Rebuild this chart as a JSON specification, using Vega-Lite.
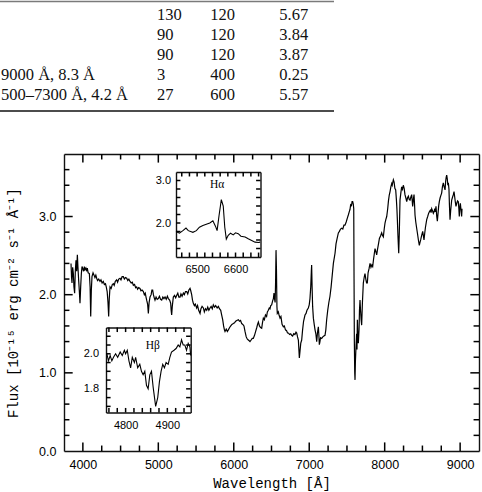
{
"$schema": "https://vega.github.io/schema/vega-lite/v6.json",
"autosize": {"type": "none"},
"padding": {"left": 64, "top": 154, "right": 3, "bottom": 41},
"width": 415,
"height": 297,
"config": {
  "view": {"stroke": null},
  "axis": {"grid": false, "domainColor": "#111", "domainWidth": 1.4, "labelColor": "#000", "labelFont": "Liberation Sans", "titleFont": "Liberation Mono", "titleFontWeight": "normal", "titleColor": "#000", "labelFlush": false, "labelOverlap": false},
  "rule": {"color": "#000", "strokeWidth": 1.5}
},
"datasets": {
  "spec": [
{"w":3843,"f":2.40},{"w":3850,"f":2.22},{"w":3856,"f":2.15},{"w":3865,"f":2.35},{"w":3874,"f":2.27},{"w":3882,"f":2.10},{"w":3891,"f":2.02},{"w":3900,"f":2.30},{"w":3909,"f":2.44},{"w":3918,"f":2.30},{"w":3927,"f":2.51},{"w":3935,"f":2.35},{"w":3944,"f":2.19},{"w":3953,"f":2.05},{"w":3962,"f":1.89},{"w":3971,"f":2.10},{"w":3980,"f":2.27},{"w":3989,"f":2.36},{"w":3997,"f":2.34},{"w":4010,"f":2.30},{"w":4020,"f":2.36},{"w":4028,"f":2.32},{"w":4040,"f":2.34},{"w":4050,"f":2.30},{"w":4059,"f":2.34},{"w":4070,"f":2.28},{"w":4086,"f":2.27},{"w":4096,"f":2.10},{"w":4104,"f":1.72},{"w":4112,"f":2.05},{"w":4121,"f":2.23},{"w":4135,"f":2.28},{"w":4148,"f":2.25},{"w":4160,"f":2.22},{"w":4172,"f":2.25},{"w":4183,"f":2.21},{"w":4195,"f":2.18},{"w":4210,"f":2.20},{"w":4227,"f":2.17},{"w":4240,"f":2.19},{"w":4255,"f":2.15},{"w":4271,"f":2.17},{"w":4285,"f":2.13},{"w":4300,"f":2.14},{"w":4310,"f":2.10},{"w":4322,"f":2.04},{"w":4333,"f":1.90},{"w":4342,"f":1.72},{"w":4350,"f":1.95},{"w":4360,"f":2.10},{"w":4375,"f":2.08},{"w":4390,"f":2.13},{"w":4404,"f":2.14},{"w":4415,"f":2.12},{"w":4430,"f":2.17},{"w":4448,"f":2.19},{"w":4460,"f":2.16},{"w":4475,"f":2.20},{"w":4492,"f":2.21},{"w":4505,"f":2.19},{"w":4520,"f":2.23},{"w":4536,"f":2.23},{"w":4550,"f":2.20},{"w":4565,"f":2.22},{"w":4581,"f":2.21},{"w":4595,"f":2.18},{"w":4610,"f":2.20},{"w":4625,"f":2.17},{"w":4640,"f":2.15},{"w":4655,"f":2.16},{"w":4669,"f":2.12},{"w":4685,"f":2.13},{"w":4700,"f":2.09},{"w":4713,"f":2.10},{"w":4725,"f":2.07},{"w":4740,"f":2.09},{"w":4757,"f":2.08},{"w":4770,"f":2.05},{"w":4785,"f":2.06},{"w":4802,"f":2.04},{"w":4815,"f":2.00},{"w":4827,"f":2.02},{"w":4837,"f":1.97},{"w":4848,"f":1.92},{"w":4858,"f":1.88},{"w":4868,"f":1.76},{"w":4878,"f":1.90},{"w":4890,"f":1.97},{"w":4905,"f":2.00},{"w":4915,"f":2.06},{"w":4925,"f":2.06},{"w":4935,"f":2.00},{"w":4946,"f":1.96},{"w":4956,"f":1.93},{"w":4970,"f":1.97},{"w":4985,"f":1.94},{"w":5000,"f":1.95},{"w":5015,"f":1.98},{"w":5030,"f":1.94},{"w":5045,"f":1.93},{"w":5060,"f":1.97},{"w":5075,"f":1.95},{"w":5089,"f":1.97},{"w":5105,"f":1.94},{"w":5120,"f":1.98},{"w":5133,"f":1.95},{"w":5150,"f":1.93},{"w":5164,"f":1.89},{"w":5170,"f":1.80},{"w":5177,"f":1.74},{"w":5185,"f":1.85},{"w":5199,"f":1.97},{"w":5215,"f":1.99},{"w":5230,"f":1.96},{"w":5243,"f":1.99},{"w":5258,"f":2.02},{"w":5272,"f":1.97},{"w":5288,"f":1.97},{"w":5300,"f":2.01},{"w":5315,"f":1.98},{"w":5332,"f":2.02},{"w":5345,"f":2.00},{"w":5360,"f":2.04},{"w":5376,"f":2.04},{"w":5390,"f":2.01},{"w":5405,"f":2.06},{"w":5420,"f":2.08},{"w":5430,"f":2.05},{"w":5442,"f":2.00},{"w":5453,"f":1.93},{"w":5464,"f":1.89},{"w":5478,"f":1.86},{"w":5490,"f":1.88},{"w":5508,"f":1.83},{"w":5520,"f":1.86},{"w":5535,"f":1.80},{"w":5553,"f":1.76},{"w":5565,"f":1.82},{"w":5580,"f":1.85},{"w":5597,"f":1.83},{"w":5610,"f":1.78},{"w":5625,"f":1.82},{"w":5641,"f":1.80},{"w":5655,"f":1.84},{"w":5670,"f":1.80},{"w":5685,"f":1.83},{"w":5700,"f":1.85},{"w":5715,"f":1.82},{"w":5729,"f":1.87},{"w":5745,"f":1.84},{"w":5760,"f":1.86},{"w":5780,"f":1.83},{"w":5796,"f":1.85},{"w":5810,"f":1.82},{"w":5827,"f":1.80},{"w":5840,"f":1.74},{"w":5853,"f":1.68},{"w":5865,"f":1.60},{"w":5876,"f":1.55},{"w":5884,"f":1.53},{"w":5900,"f":1.56},{"w":5915,"f":1.53},{"w":5928,"f":1.55},{"w":5945,"f":1.58},{"w":5960,"f":1.60},{"w":5975,"f":1.62},{"w":5994,"f":1.63},{"w":6010,"f":1.64},{"w":6025,"f":1.66},{"w":6040,"f":1.67},{"w":6061,"f":1.68},{"w":6075,"f":1.66},{"w":6090,"f":1.67},{"w":6105,"f":1.63},{"w":6120,"f":1.62},{"w":6135,"f":1.60},{"w":6149,"f":1.53},{"w":6165,"f":1.46},{"w":6180,"f":1.43},{"w":6193,"f":1.42},{"w":6205,"f":1.41},{"w":6215,"f":1.40},{"w":6230,"f":1.42},{"w":6245,"f":1.44},{"w":6259,"f":1.44},{"w":6275,"f":1.48},{"w":6290,"f":1.53},{"w":6305,"f":1.58},{"w":6315,"f":1.62},{"w":6326,"f":1.65},{"w":6340,"f":1.60},{"w":6355,"f":1.58},{"w":6370,"f":1.57},{"w":6380,"f":1.64},{"w":6392,"f":1.70},{"w":6405,"f":1.68},{"w":6420,"f":1.74},{"w":6435,"f":1.72},{"w":6445,"f":1.78},{"w":6458,"f":1.80},{"w":6470,"f":1.83},{"w":6480,"f":1.82},{"w":6490,"f":1.86},{"w":6502,"f":1.87},{"w":6515,"f":1.92},{"w":6525,"f":1.95},{"w":6533,"f":2.02},{"w":6540,"f":1.95},{"w":6548,"f":1.90},{"w":6554,"f":2.15},{"w":6560,"f":2.57},{"w":6566,"f":2.30},{"w":6572,"f":1.85},{"w":6577,"f":1.76},{"w":6590,"f":1.78},{"w":6600,"f":1.74},{"w":6613,"f":1.70},{"w":6625,"f":1.72},{"w":6640,"f":1.62},{"w":6657,"f":1.59},{"w":6670,"f":1.60},{"w":6685,"f":1.55},{"w":6700,"f":1.54},{"w":6712,"f":1.51},{"w":6723,"f":1.51},{"w":6740,"f":1.49},{"w":6755,"f":1.50},{"w":6767,"f":1.48},{"w":6780,"f":1.47},{"w":6795,"f":1.50},{"w":6810,"f":1.49},{"w":6825,"f":1.52},{"w":6834,"f":1.51},{"w":6845,"f":1.46},{"w":6856,"f":1.42},{"w":6863,"f":1.30},{"w":6869,"f":1.19},{"w":6878,"f":1.28},{"w":6888,"f":1.38},{"w":6900,"f":1.42},{"w":6912,"f":1.55},{"w":6925,"f":1.66},{"w":6944,"f":1.74},{"w":6958,"f":1.76},{"w":6970,"f":1.80},{"w":6988,"f":1.83},{"w":7000,"f":1.87},{"w":7010,"f":1.95},{"w":7020,"f":2.10},{"w":7028,"f":2.30},{"w":7032,"f":2.38},{"w":7038,"f":2.10},{"w":7045,"f":1.85},{"w":7055,"f":1.70},{"w":7066,"f":1.62},{"w":7077,"f":1.55},{"w":7088,"f":1.50},{"w":7099,"f":1.40},{"w":7110,"f":1.52},{"w":7121,"f":1.59},{"w":7128,"f":1.48},{"w":7134,"f":1.36},{"w":7142,"f":1.40},{"w":7150,"f":1.45},{"w":7165,"f":1.44},{"w":7180,"f":1.46},{"w":7194,"f":1.47},{"w":7209,"f":1.48},{"w":7220,"f":1.55},{"w":7231,"f":1.68},{"w":7245,"f":1.80},{"w":7260,"f":1.90},{"w":7275,"f":1.98},{"w":7290,"f":2.10},{"w":7305,"f":2.25},{"w":7320,"f":2.40},{"w":7342,"f":2.53},{"w":7355,"f":2.65},{"w":7370,"f":2.72},{"w":7386,"f":2.79},{"w":7400,"f":2.81},{"w":7415,"f":2.84},{"w":7430,"f":2.85},{"w":7445,"f":2.84},{"w":7460,"f":2.89},{"w":7474,"f":2.89},{"w":7490,"f":2.93},{"w":7505,"f":2.98},{"w":7518,"f":3.02},{"w":7530,"f":3.06},{"w":7540,"f":3.09},{"w":7549,"f":3.15},{"w":7560,"f":3.14},{"w":7568,"f":3.19},{"w":7576,"f":3.19},{"w":7584,"f":3.16},{"w":7590,"f":3.10},{"w":7594,"f":2.20},{"w":7598,"f":1.40},{"w":7603,"f":1.00},{"w":7607,"f":0.91},{"w":7612,"f":1.15},{"w":7620,"f":1.33},{"w":7628,"f":1.50},{"w":7633,"f":1.30},{"w":7638,"f":1.68},{"w":7645,"f":1.45},{"w":7651,"f":1.38},{"w":7660,"f":1.55},{"w":7666,"f":1.80},{"w":7673,"f":1.93},{"w":7680,"f":1.80},{"w":7688,"f":1.68},{"w":7695,"f":1.61},{"w":7705,"f":1.90},{"w":7717,"f":2.15},{"w":7728,"f":2.22},{"w":7739,"f":2.27},{"w":7750,"f":2.20},{"w":7760,"f":2.15},{"w":7770,"f":2.15},{"w":7780,"f":2.28},{"w":7792,"f":2.33},{"w":7806,"f":2.40},{"w":7818,"f":2.35},{"w":7830,"f":2.38},{"w":7841,"f":2.36},{"w":7852,"f":2.45},{"w":7862,"f":2.52},{"w":7872,"f":2.59},{"w":7883,"f":2.55},{"w":7894,"f":2.51},{"w":7905,"f":2.58},{"w":7918,"f":2.65},{"w":7930,"f":2.72},{"w":7945,"f":2.75},{"w":7960,"f":2.79},{"w":7970,"f":2.76},{"w":7982,"f":2.74},{"w":7995,"f":2.85},{"w":8005,"f":2.92},{"w":8015,"f":2.96},{"w":8027,"f":3.00},{"w":8040,"f":3.10},{"w":8050,"f":3.20},{"w":8060,"f":3.27},{"w":8071,"f":3.32},{"w":8082,"f":3.38},{"w":8093,"f":3.42},{"w":8100,"f":3.40},{"w":8108,"f":3.44},{"w":8115,"f":3.47},{"w":8125,"f":3.44},{"w":8135,"f":3.36},{"w":8146,"f":3.34},{"w":8155,"f":3.22},{"w":8162,"f":3.10},{"w":8168,"f":2.96},{"w":8176,"f":2.75},{"w":8186,"f":2.53},{"w":8194,"f":2.80},{"w":8203,"f":3.21},{"w":8214,"f":3.30},{"w":8225,"f":3.38},{"w":8236,"f":3.35},{"w":8247,"f":3.40},{"w":8258,"f":3.36},{"w":8269,"f":3.28},{"w":8280,"f":3.24},{"w":8292,"f":3.19},{"w":8303,"f":3.24},{"w":8314,"f":3.26},{"w":8325,"f":3.22},{"w":8336,"f":3.21},{"w":8347,"f":3.25},{"w":8358,"f":3.28},{"w":8365,"f":3.20},{"w":8371,"f":3.13},{"w":8380,"f":3.22},{"w":8389,"f":3.28},{"w":8396,"f":3.15},{"w":8402,"f":3.02},{"w":8412,"f":2.93},{"w":8424,"f":2.85},{"w":8435,"f":2.78},{"w":8447,"f":2.70},{"w":8459,"f":2.63},{"w":8468,"f":2.67},{"w":8477,"f":2.70},{"w":8490,"f":2.76},{"w":8504,"f":2.81},{"w":8512,"f":2.76},{"w":8521,"f":2.70},{"w":8530,"f":2.78},{"w":8540,"f":2.86},{"w":8557,"f":2.96},{"w":8570,"f":3.00},{"w":8582,"f":3.04},{"w":8592,"f":3.06},{"w":8605,"f":3.08},{"w":8615,"f":3.05},{"w":8623,"f":3.10},{"w":8635,"f":3.07},{"w":8645,"f":3.04},{"w":8654,"f":3.06},{"w":8664,"f":3.10},{"w":8672,"f":3.06},{"w":8680,"f":3.13},{"w":8690,"f":3.00},{"w":8698,"f":2.94},{"w":8708,"f":3.05},{"w":8716,"f":3.14},{"w":8724,"f":3.19},{"w":8735,"f":3.24},{"w":8745,"f":3.27},{"w":8755,"f":3.30},{"w":8765,"f":3.38},{"w":8777,"f":3.43},{"w":8788,"f":3.38},{"w":8800,"f":3.34},{"w":8808,"f":3.45},{"w":8815,"f":3.50},{"w":8822,"f":3.53},{"w":8830,"f":3.48},{"w":8837,"f":3.40},{"w":8844,"f":3.43},{"w":8852,"f":3.35},{"w":8858,"f":3.15},{"w":8866,"f":2.96},{"w":8875,"f":3.08},{"w":8888,"f":3.21},{"w":8900,"f":3.25},{"w":8910,"f":3.28},{"w":8919,"f":3.32},{"w":8928,"f":3.25},{"w":8937,"f":3.18},{"w":8945,"f":3.13},{"w":8955,"f":3.17},{"w":8966,"f":3.20},{"w":8976,"f":3.19},{"w":8983,"f":3.10},{"w":8989,"f":3.00},{"w":8996,"f":3.12},{"w":9003,"f":3.17},{"w":9012,"f":3.08},{"w":9020,"f":3.00},{"w":9025,"f":3.10}
  ],
  "ha": [
{"w":6445,"f":1.80},{"w":6454,"f":1.76},{"w":6463,"f":1.82},{"w":6471,"f":1.88},{"w":6477,"f":1.82},{"w":6489,"f":1.78},{"w":6498,"f":1.82},{"w":6506,"f":1.90},{"w":6515,"f":1.94},{"w":6524,"f":1.97},{"w":6533,"f":2.00},{"w":6541,"f":2.05},{"w":6548,"f":1.92},{"w":6552,"f":1.82},{"w":6557,"f":2.17},{"w":6563,"f":2.55},{"w":6568,"f":2.40},{"w":6572,"f":1.90},{"w":6576,"f":1.62},{"w":6581,"f":1.71},{"w":6587,"f":1.76},{"w":6594,"f":1.72},{"w":6600,"f":1.77},{"w":6607,"f":1.75},{"w":6614,"f":1.69},{"w":6625,"f":1.67},{"w":6633,"f":1.63},{"w":6642,"f":1.59},{"w":6651,"f":1.55},{"w":6660,"f":1.54},{"w":6664,"f":1.55}
  ],
  "hb": [
{"w":4755,"f":2.00},{"w":4759,"f":1.96},{"w":4763,"f":1.99},{"w":4767,"f":1.96},{"w":4771,"f":1.98},{"w":4776,"f":2.00},{"w":4781,"f":1.98},{"w":4787,"f":2.01},{"w":4792,"f":1.99},{"w":4797,"f":2.02},{"w":4800,"f":2.00},{"w":4804,"f":2.02},{"w":4808,"f":1.96},{"w":4812,"f":1.92},{"w":4816,"f":1.98},{"w":4821,"f":1.95},{"w":4824,"f":1.98},{"w":4829,"f":1.92},{"w":4834,"f":1.94},{"w":4838,"f":1.90},{"w":4842,"f":1.88},{"w":4846,"f":1.90},{"w":4850,"f":1.82},{"w":4854,"f":1.80},{"w":4858,"f":1.88},{"w":4862,"f":1.90},{"w":4866,"f":1.81},{"w":4872,"f":1.70},{"w":4877,"f":1.75},{"w":4881,"f":1.84},{"w":4885,"f":1.90},{"w":4889,"f":1.94},{"w":4893,"f":1.92},{"w":4897,"f":1.95},{"w":4902,"f":1.94},{"w":4906,"f":1.98},{"w":4910,"f":2.01},{"w":4916,"f":2.02},{"w":4921,"f":2.03},{"w":4926,"f":2.05},{"w":4930,"f":2.04},{"w":4934,"f":2.08},{"w":4938,"f":2.05},{"w":4942,"f":2.05},{"w":4946,"f":2.02},{"w":4950,"f":2.06},{"w":4954,"f":2.04},{"w":4956,"f":1.99}
  ],
  "mxt": [{"v":4000,"k":"M"},{"v":4250,"k":"m"},{"v":4500,"k":"m"},{"v":4750,"k":"m"},{"v":5000,"k":"M"},{"v":5250,"k":"m"},{"v":5500,"k":"m"},{"v":5750,"k":"m"},{"v":6000,"k":"M"},{"v":6250,"k":"m"},{"v":6500,"k":"m"},{"v":6750,"k":"m"},{"v":7000,"k":"M"},{"v":7250,"k":"m"},{"v":7500,"k":"m"},{"v":7750,"k":"m"},{"v":8000,"k":"M"},{"v":8250,"k":"m"},{"v":8500,"k":"m"},{"v":8750,"k":"m"},{"v":9000,"k":"M"}],
  "myt": [{"v":0.2,"k":"m"},{"v":0.4,"k":"m"},{"v":0.6,"k":"m"},{"v":0.8,"k":"m"},{"v":1.0,"k":"M"},{"v":1.2,"k":"m"},{"v":1.4,"k":"m"},{"v":1.6,"k":"m"},{"v":1.8,"k":"m"},{"v":2.0,"k":"M"},{"v":2.2,"k":"m"},{"v":2.4,"k":"m"},{"v":2.6,"k":"m"},{"v":2.8,"k":"m"},{"v":3.0,"k":"M"},{"v":3.2,"k":"m"},{"v":3.4,"k":"m"},{"v":3.6,"k":"m"}],
  "hax": [{"v":6460},{"v":6480},{"v":6500},{"v":6520},{"v":6540},{"v":6560},{"v":6580},{"v":6600},{"v":6620},{"v":6640},{"v":6660}],
  "hay": [{"v":1.4},{"v":1.6},{"v":1.8},{"v":2.0},{"v":2.2},{"v":2.4},{"v":2.6},{"v":2.8},{"v":3.0}],
  "hbx": [{"v":4760},{"v":4780},{"v":4800},{"v":4820},{"v":4840},{"v":4860},{"v":4880},{"v":4900},{"v":4920},{"v":4940}],
  "hby": [{"v":1.7},{"v":1.75},{"v":1.8},{"v":1.85},{"v":1.9},{"v":1.95},{"v":2.0},{"v":2.05},{"v":2.1}],
  "tbl": [
{"row":1,"col":1,"t":"130"},{"row":1,"col":2,"t":"120"},{"row":1,"col":3,"t":"5.67"},
{"row":2,"col":1,"t":"90"},{"row":2,"col":2,"t":"120"},{"row":2,"col":3,"t":"3.84"},
{"row":3,"col":1,"t":"90"},{"row":3,"col":2,"t":"120"},{"row":3,"col":3,"t":"3.87"},
{"row":4,"col":0,"t":"9000 Å, 8.3 Å"},{"row":4,"col":1,"t":"3"},{"row":4,"col":2,"t":"400"},{"row":4,"col":3,"t":"0.25"},
{"row":5,"col":0,"t":"500–7300 Å, 4.2 Å"},{"row":5,"col":1,"t":"27"},{"row":5,"col":2,"t":"600"},{"row":5,"col":3,"t":"5.57"}
  ]
},
"resolve": {"scale": {"x": "independent", "y": "independent"}, "axis": {"x": "independent", "y": "independent"}},
"layer": [
  {"data": {"name": "spec"}, "mark": {"type": "line", "color": "#000", "strokeWidth": 1.2},
   "encoding": {
    "x": {"field": "w", "type": "quantitative", "scale": {"domain": [3750, 9250], "nice": false, "zero": false},
          "axis": {"orient": "bottom", "values": [4000,5000,6000,7000,8000,9000], "format": "d", "ticks": false, "domain": true, "labelFontSize": 12.5, "labelPadding": 7, "title": "Wavelength [Å]", "titleFontSize": 14, "titlePadding": 6}},
    "y": {"field": "f", "type": "quantitative", "scale": {"domain": [0, 3.8], "nice": false, "zero": false},
          "axis": {"orient": "left", "values": [0,1,2,3], "format": ".1f", "ticks": false, "domain": true, "labelFontSize": 12.5, "labelPadding": 8, "title": "Flux [10⁻¹⁵ erg cm⁻² s⁻¹ Å⁻¹]", "titleFontSize": 14, "titlePadding": 18}}
   }},
  {"data": {"values": [{"w": 5000, "f": 1}]}, "mark": {"type": "point", "opacity": 0},
   "encoding": {
    "x": {"field": "w", "type": "quantitative", "scale": {"domain": [3750, 9250], "nice": false, "zero": false},
          "axis": {"orient": "top", "labels": false, "ticks": false, "domain": true, "title": null}},
    "y": {"field": "f", "type": "quantitative", "scale": {"domain": [0, 3.8], "nice": false, "zero": false},
          "axis": {"orient": "right", "labels": false, "ticks": false, "domain": true, "title": null}}
   }},
  {"data": {"name": "mxt"}, "transform": [{"filter": "datum.k === 'M'"}], "mark": "rule",
   "encoding": {
    "x": {"field": "v", "type": "quantitative", "scale": {"domain": [3750, 9250], "nice": false, "zero": false}, "axis": null},
    "y": {"datum": 0, "type": "quantitative", "scale": {"domain": [0, 3.8], "nice": false, "zero": false}, "axis": null},
    "y2": {"datum": 0.11}
   }},
  {"data": {"name": "mxt"}, "transform": [{"filter": "datum.k === 'm'"}], "mark": "rule",
   "encoding": {
    "x": {"field": "v", "type": "quantitative", "scale": {"domain": [3750, 9250], "nice": false, "zero": false}, "axis": null},
    "y": {"datum": 0, "type": "quantitative", "scale": {"domain": [0, 3.8], "nice": false, "zero": false}, "axis": null},
    "y2": {"datum": 0.07}
   }},
  {"data": {"name": "mxt"}, "transform": [{"filter": "datum.k === 'M'"}], "mark": "rule",
   "encoding": {
    "x": {"field": "v", "type": "quantitative", "scale": {"domain": [3750, 9250], "nice": false, "zero": false}, "axis": null},
    "y": {"datum": 3.8, "type": "quantitative", "scale": {"domain": [0, 3.8], "nice": false, "zero": false}, "axis": null},
    "y2": {"datum": 3.69}
   }},
  {"data": {"name": "mxt"}, "transform": [{"filter": "datum.k === 'm'"}], "mark": "rule",
   "encoding": {
    "x": {"field": "v", "type": "quantitative", "scale": {"domain": [3750, 9250], "nice": false, "zero": false}, "axis": null},
    "y": {"datum": 3.8, "type": "quantitative", "scale": {"domain": [0, 3.8], "nice": false, "zero": false}, "axis": null},
    "y2": {"datum": 3.73}
   }},
  {"data": {"name": "myt"}, "transform": [{"filter": "datum.k === 'M'"}], "mark": "rule",
   "encoding": {
    "y": {"field": "v", "type": "quantitative", "scale": {"domain": [0, 3.8], "nice": false, "zero": false}, "axis": null},
    "x": {"datum": 3750, "type": "quantitative", "scale": {"domain": [3750, 9250], "nice": false, "zero": false}, "axis": null},
    "x2": {"datum": 3865}
   }},
  {"data": {"name": "myt"}, "transform": [{"filter": "datum.k === 'm'"}], "mark": "rule",
   "encoding": {
    "y": {"field": "v", "type": "quantitative", "scale": {"domain": [0, 3.8], "nice": false, "zero": false}, "axis": null},
    "x": {"datum": 3750, "type": "quantitative", "scale": {"domain": [3750, 9250], "nice": false, "zero": false}, "axis": null},
    "x2": {"datum": 3822}
   }},
  {"data": {"name": "myt"}, "transform": [{"filter": "datum.k === 'M'"}], "mark": "rule",
   "encoding": {
    "y": {"field": "v", "type": "quantitative", "scale": {"domain": [0, 3.8], "nice": false, "zero": false}, "axis": null},
    "x": {"datum": 9250, "type": "quantitative", "scale": {"domain": [3750, 9250], "nice": false, "zero": false}, "axis": null},
    "x2": {"datum": 9135}
   }},
  {"data": {"name": "myt"}, "transform": [{"filter": "datum.k === 'm'"}], "mark": "rule",
   "encoding": {
    "y": {"field": "v", "type": "quantitative", "scale": {"domain": [0, 3.8], "nice": false, "zero": false}, "axis": null},
    "x": {"datum": 9250, "type": "quantitative", "scale": {"domain": [3750, 9250], "nice": false, "zero": false}, "axis": null},
    "x2": {"datum": 9178}
   }},

  {"data": {"name": "ha"}, "mark": {"type": "line", "color": "#000", "strokeWidth": 1.1},
   "encoding": {
    "x": {"field": "w", "type": "quantitative", "scale": {"domain": [6445, 6665], "range": [112, 196.5], "nice": false, "zero": false},
          "axis": {"orient": "bottom", "offset": -194, "values": [6500, 6600], "format": "d", "ticks": false, "domain": true, "labelFontSize": 11, "labelPadding": 6, "title": null}},
    "y": {"field": "f", "type": "quantitative", "scale": {"domain": [1.2, 3.2], "range": [103, 18], "nice": false, "zero": false},
          "axis": {"orient": "left", "offset": -112, "values": [2, 3], "format": ".1f", "ticks": false, "domain": true, "labelFontSize": 11, "labelPadding": 5.5, "title": null}}
   }},
  {"data": {"values": [{"w": 6550, "f": 2}]}, "mark": {"type": "point", "opacity": 0},
   "encoding": {
    "x": {"field": "w", "type": "quantitative", "scale": {"domain": [6445, 6665], "range": [112, 196.5], "nice": false, "zero": false},
          "axis": {"orient": "top", "offset": -18, "labels": false, "ticks": false, "domain": true, "title": null}},
    "y": {"field": "f", "type": "quantitative", "scale": {"domain": [1.2, 3.2], "range": [103, 18], "nice": false, "zero": false},
          "axis": {"orient": "right", "offset": -218.5, "labels": false, "ticks": false, "domain": true, "title": null}}
   }},
  {"data": {"name": "hax"}, "mark": "rule",
   "encoding": {
    "x": {"field": "v", "type": "quantitative", "scale": {"domain": [6445, 6665], "range": [112, 196.5], "nice": false, "zero": false}, "axis": null},
    "y": {"datum": 1.2, "type": "quantitative", "scale": {"domain": [1.2, 3.2], "range": [103, 18], "nice": false, "zero": false}, "axis": null},
    "y2": {"datum": 1.305}
   }},
  {"data": {"name": "hax"}, "mark": "rule",
   "encoding": {
    "x": {"field": "v", "type": "quantitative", "scale": {"domain": [6445, 6665], "range": [112, 196.5], "nice": false, "zero": false}, "axis": null},
    "y": {"datum": 3.2, "type": "quantitative", "scale": {"domain": [1.2, 3.2], "range": [103, 18], "nice": false, "zero": false}, "axis": null},
    "y2": {"datum": 3.095}
   }},
  {"data": {"name": "hay"}, "mark": "rule",
   "encoding": {
    "y": {"field": "v", "type": "quantitative", "scale": {"domain": [1.2, 3.2], "range": [103, 18], "nice": false, "zero": false}, "axis": null},
    "x": {"datum": 6445, "type": "quantitative", "scale": {"domain": [6445, 6665], "range": [112, 196.5], "nice": false, "zero": false}, "axis": null},
    "x2": {"datum": 6456.5}
   }},
  {"data": {"name": "hay"}, "mark": "rule",
   "encoding": {
    "y": {"field": "v", "type": "quantitative", "scale": {"domain": [1.2, 3.2], "range": [103, 18], "nice": false, "zero": false}, "axis": null},
    "x": {"datum": 6665, "type": "quantitative", "scale": {"domain": [6445, 6665], "range": [112, 196.5], "nice": false, "zero": false}, "axis": null},
    "x2": {"datum": 6653.5}
   }},
  {"data": {"values": [{"w": 6552, "f": 2.89, "t": "Hα"}]}, "mark": {"type": "text", "font": "Liberation Serif", "fontSize": 11.5, "color": "#000", "align": "center", "baseline": "middle"},
   "encoding": {
    "x": {"field": "w", "type": "quantitative", "scale": {"domain": [6445, 6665], "range": [112, 196.5], "nice": false, "zero": false}, "axis": null},
    "y": {"field": "f", "type": "quantitative", "scale": {"domain": [1.2, 3.2], "range": [103, 18], "nice": false, "zero": false}, "axis": null},
    "text": {"field": "t"}
   }},

  {"data": {"name": "hb"}, "mark": {"type": "line", "color": "#000", "strokeWidth": 1.1},
   "encoding": {
    "x": {"field": "w", "type": "quantitative", "scale": {"domain": [4753, 4956], "range": [42, 126.7], "nice": false, "zero": false},
          "axis": {"orient": "bottom", "offset": -38.5, "values": [4800, 4900], "format": "d", "ticks": false, "domain": true, "labelFontSize": 11, "labelPadding": 6.5, "title": null}},
    "y": {"field": "f", "type": "quantitative", "scale": {"domain": [1.665, 2.15], "range": [258.5, 173.5], "nice": false, "zero": false},
          "axis": {"orient": "left", "offset": -42, "values": [1.8, 2.0], "format": ".1f", "ticks": false, "domain": true, "labelFontSize": 11, "labelPadding": 7.5, "title": null}}
   }},
  {"data": {"values": [{"w": 4850, "f": 1.9}]}, "mark": {"type": "point", "opacity": 0},
   "encoding": {
    "x": {"field": "w", "type": "quantitative", "scale": {"domain": [4753, 4956], "range": [42, 126.7], "nice": false, "zero": false},
          "axis": {"orient": "top", "offset": -173.5, "labels": false, "ticks": false, "domain": true, "title": null}},
    "y": {"field": "f", "type": "quantitative", "scale": {"domain": [1.665, 2.15], "range": [258.5, 173.5], "nice": false, "zero": false},
          "axis": {"orient": "right", "offset": -288.3, "labels": false, "ticks": false, "domain": true, "title": null}}
   }},
  {"data": {"name": "hbx"}, "mark": "rule",
   "encoding": {
    "x": {"field": "v", "type": "quantitative", "scale": {"domain": [4753, 4956], "range": [42, 126.7], "nice": false, "zero": false}, "axis": null},
    "y": {"datum": 1.665, "type": "quantitative", "scale": {"domain": [1.665, 2.15], "range": [258.5, 173.5], "nice": false, "zero": false}, "axis": null},
    "y2": {"datum": 1.691}
   }},
  {"data": {"name": "hbx"}, "mark": "rule",
   "encoding": {
    "x": {"field": "v", "type": "quantitative", "scale": {"domain": [4753, 4956], "range": [42, 126.7], "nice": false, "zero": false}, "axis": null},
    "y": {"datum": 2.15, "type": "quantitative", "scale": {"domain": [1.665, 2.15], "range": [258.5, 173.5], "nice": false, "zero": false}, "axis": null},
    "y2": {"datum": 2.124}
   }},
  {"data": {"name": "hby"}, "mark": "rule",
   "encoding": {
    "y": {"field": "v", "type": "quantitative", "scale": {"domain": [1.665, 2.15], "range": [258.5, 173.5], "nice": false, "zero": false}, "axis": null},
    "x": {"datum": 4753, "type": "quantitative", "scale": {"domain": [4753, 4956], "range": [42, 126.7], "nice": false, "zero": false}, "axis": null},
    "x2": {"datum": 4764}
   }},
  {"data": {"name": "hby"}, "mark": "rule",
   "encoding": {
    "y": {"field": "v", "type": "quantitative", "scale": {"domain": [1.665, 2.15], "range": [258.5, 173.5], "nice": false, "zero": false}, "axis": null},
    "x": {"datum": 4956, "type": "quantitative", "scale": {"domain": [4753, 4956], "range": [42, 126.7], "nice": false, "zero": false}, "axis": null},
    "x2": {"datum": 4945}
   }},
  {"data": {"values": [{"w": 4865, "f": 2.046, "t": "Hβ"}]}, "mark": {"type": "text", "font": "Liberation Serif", "fontSize": 11.5, "color": "#000", "align": "center", "baseline": "middle"},
   "encoding": {
    "x": {"field": "w", "type": "quantitative", "scale": {"domain": [4753, 4956], "range": [42, 126.7], "nice": false, "zero": false}, "axis": null},
    "y": {"field": "f", "type": "quantitative", "scale": {"domain": [1.665, 2.15], "range": [258.5, 173.5], "nice": false, "zero": false}, "axis": null},
    "text": {"field": "t"}
   }},

  {"data": {"name": "tbl"}, "mark": {"type": "text", "font": "Liberation Serif", "fontSize": 16.5, "color": "#111", "align": "left", "baseline": "middle"},
   "encoding": {
    "x": {"field": "col", "type": "quantitative", "scale": {"domain": [0, 1, 2, 3, 4], "range": [-63, 93, 146.3, 215.3, 270], "nice": false, "zero": false}, "axis": null},
    "y": {"field": "row", "type": "quantitative", "scale": {"domain": [0, 1, 5, 6], "range": [-152.5, -139.5, -59, -43], "nice": false, "zero": false}, "axis": null},
    "text": {"field": "t"}
   }},
  {"data": {"values": [{"line": "top", "row": 0}, {"line": "bottom", "row": 6}]}, "mark": {"type": "rule"},
   "encoding": {
    "x": {"datum": 0, "type": "quantitative", "scale": {"domain": [0, 1, 2, 3, 4], "range": [-64, 93, 146.3, 215.3, 270], "nice": false, "zero": false}, "axis": null},
    "x2": {"datum": 4},
    "y": {"field": "row", "type": "quantitative", "scale": {"domain": [0, 1, 5, 6], "range": [-152.5, -139.5, -59, -43], "nice": false, "zero": false}, "axis": null},
    "color": {"condition": {"test": "datum.line === 'top'", "value": "#7a7a7a"}, "value": "#111"},
    "strokeWidth": {"condition": {"test": "datum.line === 'top'", "value": 2.5}, "value": 1.2}
   }}
]
}
